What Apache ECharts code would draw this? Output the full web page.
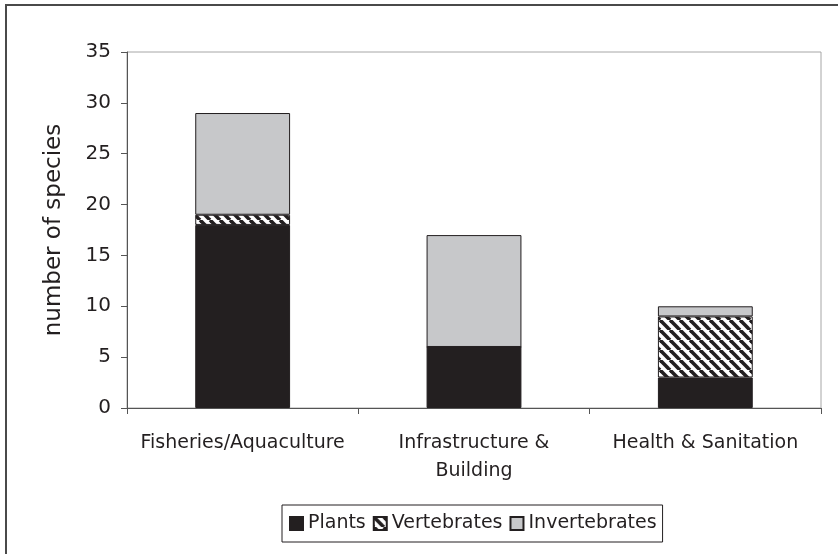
<!DOCTYPE html>
<html><head><meta charset="utf-8">
<script src="https://cdn.jsdelivr.net/npm/echarts@6/dist/echarts.min.js"></script>
<style>html,body{margin:0;padding:0;background:#fff}#c{width:838px;height:554px}</style>
</head><body><div id="c"></div>
<script>
const categories = ['Fisheries/Aquaculture', 'Infrastructure &\nBuilding', 'Health & Sanitation'];
const plants = [18, 6, 3];
const vertebrates = [1, 0, 6];
const invertebrates = [10, 11, 1];
const yTicks = [0, 5, 10, 15, 20, 25, 30, 35];

const ink = '#231f20';
function stripe() {
  const s = 10, c = document.createElement('canvas');
  c.width = s; c.height = s;
  const g = c.getContext('2d');
  g.fillStyle = '#fff'; g.fillRect(0, 0, s, s);
  g.strokeStyle = ink; g.lineWidth = 3.6;
  for (const k of [-s, 0, s]) { g.beginPath(); g.moveTo(k, 0); g.lineTo(k + s, s); g.stroke(); }
  return {image: c, repeat: 'repeat'};
}
const font = '"DejaVu Sans", sans-serif';
const chart = echarts.init(document.getElementById('c'));
const base = {type: 'bar', stack: 'a', barWidth: '41%'};
chart.setOption({
  animation: false,
  textStyle: {fontFamily: font, color: ink},
  graphic: [{type: 'rect', shape: {x: 6, y: 5, width: 900, height: 700}, style: {fill: 'none', stroke: '#4a4a4a', lineWidth: 2}}],
  grid: {left: 127, top: 52, width: 694, height: 356, show: true, borderColor: '#a6a6a6', borderWidth: 1},
  legend: {
    left: 282, top: 505, padding: [9, 6, 9, 7], borderColor: ink, borderWidth: 1,
    itemWidth: 13, itemHeight: 13, itemGap: 7,
    textStyle: {fontSize: 19, color: ink, fontFamily: font},
    data: [
      {name: 'Plants', icon: 'rect'},
      {name: 'Vertebrates', icon: 'rect'},
      {name: 'Invertebrates', icon: 'rect'}
    ]
  },
  xAxis: {
    type: 'category', data: categories,
    axisLine: {lineStyle: {color: '#555', width: 1}},
    axisTick: {show: true, length: 6, lineStyle: {color: '#555'}},
    axisLabel: {fontSize: 19, color: ink, margin: 21, lineHeight: 28, interval: 0, fontFamily: font}
  },
  yAxis: {
    type: 'value', min: 0, max: 35, interval: 5,
    name: 'number of species', nameLocation: 'middle', nameGap: 61, nameRotate: 90,
    nameTextStyle: {fontSize: 23, color: ink, fontFamily: font},
    splitLine: {show: false},
    axisLine: {show: true, lineStyle: {color: '#555', width: 1}},
    axisTick: {show: true, length: 6, lineStyle: {color: '#555'}},
    axisLabel: {fontSize: 20, color: ink, margin: 16, fontFamily: font,
      formatter: v => yTicks.includes(v) ? String(v) : ''}
  },
  series: [
    Object.assign({}, base, {name: 'Plants', data: plants, itemStyle: {color: ink, borderColor: ink, borderWidth: 1}}),
    Object.assign({}, base, {name: 'Vertebrates', data: vertebrates, itemStyle: {color: stripe(), borderColor: ink, borderWidth: 1}}),
    Object.assign({}, base, {name: 'Invertebrates', data: invertebrates, itemStyle: {color: '#c7c8ca', borderColor: ink, borderWidth: 1}})
  ]
});
</script></body></html>
